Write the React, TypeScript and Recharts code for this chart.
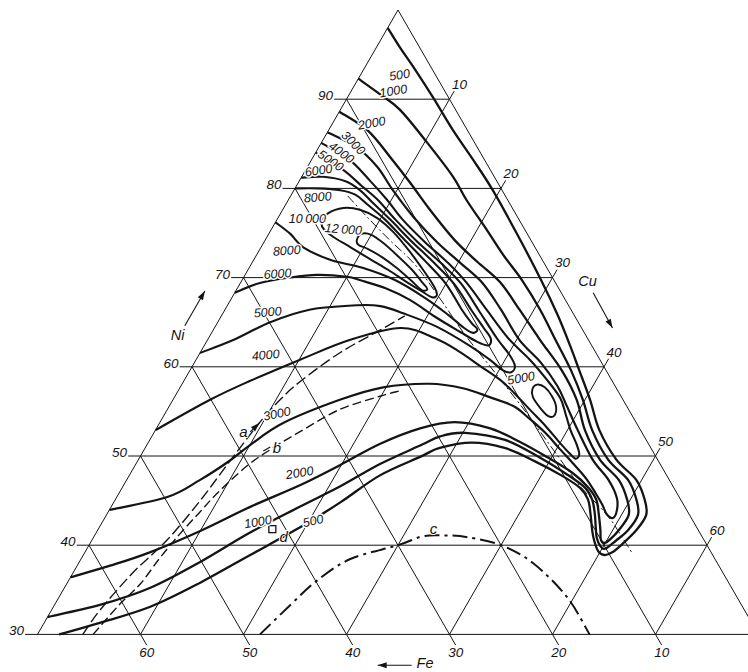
import React from 'react';
import { ComposedChart, Line, Scatter, XAxis, YAxis } from 'recharts';

// ---------- data: compositions given as [Ni %, Fe %]  (Cu = 100 - Ni - Fe) ----------
const NI_TICKS = [30, 40, 50, 60, 70, 80, 90];
const CU_TICKS = [10, 20, 30, 40, 50, 60];
const FE_TICKS = [10, 20, 30, 40, 50, 60];

const C500 = [[98.0,2.0],[95.7,1.9],[93.6,1.7],[90.2,1.5],[86.5,1.4],[83.2,1.1],[79.8,0.9],[74.8,1.0],[69.7,1.25],[65.8,1.6],[62.4,2.1],[59.6,2.6],[56.3,3.2],[52.9,4.0],[49.6,4.0],[47.3,3.2],[45.1,3.5],[43.4,4.2],[41.7,6.0],[40.1,8.2],[39.2,9.6],[38.9,10.5],[39.3,10.9],[40.5,10.7],[41.7,10.3],[43.4,9.6],[45.1,9.0],[46.4,9.1],[47.8,10.2],[49.4,12.0],[50.9,14.2],[51.5,17.1],[50.9,20.5],[49.9,22.9],[47.8,27.9],[44.8,33.2],[42.0,38.5],[38.9,44.9],[35.8,51.3],[33.1,57.5],[31.3,63.3],[30.0,67.9]];
const C1000 = [[92.3,7.7],[90.6,6.5],[88.8,5.4],[85.1,4.6],[81.3,4.0],[78.7,4.0],[75.3,3.7],[72.5,3.5],[69.7,3.1],[66.4,3.0],[63.0,3.2],[59.6,3.4],[56.3,3.9],[52.9,4.7],[49.6,4.8],[47.3,4.0],[45.1,4.3],[43.4,5.0],[41.7,6.8],[40.5,8.6],[39.6,10.1],[39.9,10.4],[40.8,10.3],[42.0,9.8],[43.6,9.1],[45.1,8.6],[46.4,8.6],[47.9,9.6],[49.8,11.3],[51.8,13.7],[52.6,17.2],[52.2,19.8],[51.2,22.2],[49.1,27.2],[46.6,32.3],[44.3,37.4],[41.4,43.7],[38.1,50.2],[35.2,56.5],[33.3,62.3],[31.95,68.05]];
const C2000 = [[88.6,11.4],[86.5,9.7],[83.5,9.0],[80.6,8.5],[77.6,8.1],[74.2,7.4],[71.75,6.4],[69.5,5.35],[66.4,5.0],[63.0,4.7],[59.6,4.3],[56.3,4.5],[52.9,5.4],[49.6,5.6],[47.3,4.9],[45.1,5.2],[43.4,5.9],[41.7,7.7],[40.7,9.0],[40.25,9.8],[40.6,10.0],[41.7,9.5],[43.4,8.8],[45.1,8.2],[46.5,8.3],[48.1,9.0],[50.0,10.7],[51.6,12.4],[53.1,14.5],[53.8,17.6],[53.1,21.3],[51.35,26.1],[49.0,31.1],[46.75,36.1],[44.3,42.2],[41.6,48.4],[39.2,54.5],[37.7,59.1],[36.4,63.6]];
const C3000 = [[86.3,13.7],[84.6,11.7],[82.4,10.8],[79.8,10.6],[76.8,10.1],[73.9,9.2],[71.6,8.1],[69.4,7.1],[66.4,6.8],[63.0,6.7],[60.5,5.9],[57.85,5.6],[55.7,5.8],[52.9,6.1],[49.6,6.3],[47.3,5.9],[45.3,6.1],[43.9,6.8],[43.05,7.6],[43.5,8.0],[44.5,7.9],[45.85,7.9],[47.5,8.0],[49.1,8.4],[50.8,8.9],[52.6,9.4],[54.3,10.2],[55.6,11.0],[56.6,12.8],[57.6,14.9],[58.1,17.9],[57.7,22.6],[56.3,27.5],[53.7,34.3],[51.2,38.8],[49.3,41.9],[47.3,45.6],[45.4,49.7],[43.95,56.05]];
const C4000 = [[85.1,14.9],[83.2,13.1],[80.9,12.3],[78.7,11.7],[76.5,11.3],[74.0,10.4],[71.6,9.3],[69.3,8.6],[66.4,8.2],[63.2,7.7],[60.8,6.8],[58.7,6.3],[56.5,6.0],[54.6,6.4],[52.9,6.8],[51.35,7.0],[50.2,7.3],[49.7,7.9],[50.3,8.2],[51.7,8.6],[53.4,9.0],[55.2,9.6],[57.1,10.2],[58.5,10.8],[60.1,12.0],[61.7,13.2],[63.2,14.8],[64.35,17.6],[63.0,23.2],[60.8,29.1],[58.4,35.2],[56.3,40.1],[52.9,47.1]];
const C5000 = [[84.0,16.0],[82.1,14.3],[80.3,13.4],[78.7,12.6],[76.5,12.0],[74.0,11.1],[71.6,10.0],[69.3,9.2],[66.4,9.0],[63.2,8.8],[61.3,8.5],[60.1,8.6],[59.4,9.3],[59.6,10.0],[60.8,10.7],[62.3,11.8],[64.5,14.0],[66.0,16.5],[66.8,18.3],[66.9,20.5],[66.4,25.4],[65.0,29.9],[63.0,34.5],[61.55,38.45]];
const C6000 = [[81.2,18.8],[81.3,16.6],[80.8,14.7],[79.8,13.8],[78.5,13.3],[76.5,12.5],[74.2,11.7],[71.75,10.7],[69.3,9.9],[66.4,9.7],[64.35,9.5],[63.2,9.4],[62.4,10.0],[62.8,10.9],[63.9,12.0],[65.5,13.5],[67.5,15.1],[68.8,16.8],[69.7,18.8],[70.1,19.9],[70.3,22.7],[70.0,25.5],[69.4,28.7],[68.3,31.7]];
const C8000 = [[80.0,20.0],[80.0,17.8],[79.8,15.7],[79.3,14.5],[78.25,13.9],[76.5,13.0],[74.4,12.3],[71.9,11.45],[69.3,10.7],[66.4,10.6],[64.9,10.4],[64.2,10.2],[63.8,10.8],[64.35,11.4],[65.8,12.2],[67.7,13.5],[69.7,15.4],[71.1,17.9],[72.0,20.6],[73.4,22.5],[74.9,23.0],[76.2,23.8]];
const C10000 = [[76.2,19.3],[77.2,18.2],[77.8,16.4],[77.6,14.9],[76.7,13.7],[75.1,12.9],[72.9,12.4],[70.6,12.1],[68.95,12.0],[68.05,12.2],[67.8,12.8],[68.5,13.5],[69.6,14.5],[70.85,15.5],[72.1,16.7],[73.4,17.9],[74.55,19.0],[75.45,19.5]];
const C12000 = [[74.2,16.9],[74.9,16.1],[74.8,15.2],[73.9,14.5],[72.4,13.8],[70.85,13.2],[69.4,12.9],[68.7,12.8],[68.6,13.4],[69.7,13.9],[71.1,14.6],[72.3,15.4],[73.2,16.3],[73.65,17.0]];
const ISLAND5000 = [[58.0,7.5],[57.7,6.9],[56.7,6.7],[55.5,6.9],[54.5,7.6],[54.5,8.2],[55.4,8.5],[56.6,8.6],[57.5,8.2]];
const RIDGE = [[79.15,15.3],[76.8,14.6],[74.2,13.7],[71.4,12.6],[67.7,12.1],[63.6,11.7],[59.3,10.9],[54.8,10.1],[50.9,9.6],[46.6,9.0],[43.4,8.0],[40.9,7.8],[39.1,7.7]];
const LINE_A = [[30.0,65.6],[32.7,62.6],[36.9,57.3],[40.6,52.1],[45.0,46.7],[49.0,42.1],[53.8,36.5],[56.3,33.3],[58.3,30.4],[61.55,24.9],[64.1,19.7],[65.7,16.5]];
const LINE_B = [[30.0,64.6],[33.4,60.3],[35.65,57.2],[38.6,53.8],[41.3,50.5],[43.7,47.4],[45.85,44.6],[48.9,40.2],[50.9,36.7],[52.7,33.2],[55.2,28.1],[56.7,23.4],[57.3,21.2]];
const LINE_C = [[30.0,48.4],[33.3,43.8],[36.0,39.9],[38.45,35.4],[40.0,30.0],[41.0,27.1],[41.1,24.9],[40.9,22.8],[40.0,20.0],[38.0,17.9],[34.2,16.5],[30.0,16.4]];
const POINT_D = [[41.8, 41.3]];

const CONTOUR_LABELS: [string, number, number][] = [
  ['500', 92.7, 3.5], ['1000', 90.9, 5.0], ['2000', 87.3, 8.9], ['3000', 85.1, 11.8],
  ['4000', 84.0, 13.5], ['5000', 83.1, 15.0], ['6000', 82.0, 16.7], ['8000', 79.0, 18.3],
  ['10\u2009000', 76.6, 20.5], ['12\u2009000', 75.4, 17.6], ['8000', 73.0, 24.3], ['6000', 70.4, 26.5],
  ['5000', 66.1, 29.6], ['4000', 61.3, 32.2], ['3000', 54.7, 34.4], ['2000', 48.1, 35.5],
  ['1000', 42.6, 42.3], ['500', 42.7, 36.9], ['5000', 58.7, 8.7],
];
const CONTOUR_LABEL_ANGLES = [-10, -10, -10, 45, 36, 34, -8, -5, 0, 4, -4, -4, -5, -5, -12, -10, -10, -12, -10];
const LETTER_LABELS: [string, number, number][] = [['a', 52.8, 38.6], ['b', 50.9, 36.3], ['c', 41.9, 25.6], ['d', 41.0, 40.6]];
const AXIS_NAMES: [string, number, number][] = [['Ni', 63.6, 39.6], ['Cu', 69.6, -3.2], ['Fe', 26.75, 34.0]];
const ARROW_FROM = [[64.6, 38.4], [68.3, -3.1], [26.55, 35.4], [52.7, 38.0]];
const ARROW_TO = [[68.5, 34.5], [64.35, -3.0], [26.55, 38.7], [53.7, 36.6]];
const B_TICK = [[50.56, 37.8], [51.0, 36.9]];

// ---------- layout ----------
const W = 748;
const H = 672;
const X_DOMAIN: [number, number] = [-38.641, 33.981];
const Y_DOMAIN: [number, number] = [25.785, 101.121];
const PX_X = W / (X_DOMAIN[1] - X_DOMAIN[0]);
const PX_Y = H / (Y_DOMAIN[1] - Y_DOMAIN[0]);
const INK = '#141414';
const FONT = "'Liberation Sans', Arial, sans-serif";

const toXY = (p: number[]) => ({ x: (100 - p[0] - 2 * p[1]) / 2, y: p[0] });
const pts = (arr: number[][]) => arr.map(toXY);

const makeCR = (closed: boolean) => (context: any) => {
  let buf: [number, number][] = [];
  return {
    areaStart() {},
    areaEnd() {},
    lineStart() { buf = []; },
    point(x: number, y: number) { buf.push([+x, +y]); },
    lineEnd() {
      const n = buf.length;
      if (!n) return;
      context.moveTo(buf[0][0], buf[0][1]);
      if (n === 1) return;
      const g = (i: number) => (closed ? buf[((i % n) + n) % n] : buf[Math.max(0, Math.min(n - 1, i))]);
      const segs = closed ? n : n - 1;
      for (let i = 0; i < segs; i++) {
        const p0 = g(i - 1), p1 = g(i), p2 = g(i + 1), p3 = g(i + 2);
        context.bezierCurveTo(
          p1[0] + (p2[0] - p0[0]) / 6, p1[1] + (p2[1] - p0[1]) / 6,
          p2[0] - (p3[0] - p1[0]) / 6, p2[1] - (p3[1] - p1[1]) / 6,
          p2[0], p2[1]);
      }
      if (closed) context.closePath();
    },
  };
};
const OPEN = makeCR(false);
const CLOSED = makeCR(true);

// grid segments
const GRID: number[][][] = [
  [[100, 0], [30, 70]],
  [[100, 0], [30, 0]],
  ...NI_TICKS.map((k) => [[k, 100 - k + 1.2], [k, 0]]),
  ...FE_TICKS.map((k) => [[100 - k, k], [28.8, k]]),
  ...CU_TICKS.map((k) => [[30, 70 - k], [100 - k + 0.9, -0.9]]),
];

const CURVES: { d: number[][]; w: number; closed?: boolean; dash?: string }[] = [
  { d: C500, w: 2.3 }, { d: C1000, w: 2.3 }, { d: C2000, w: 2.3 }, { d: C3000, w: 2.2 },
  { d: C4000, w: 2.1 }, { d: C5000, w: 2.1 }, { d: C6000, w: 2.1 }, { d: C8000, w: 2.1 },
  { d: C10000, w: 2.0, closed: true }, { d: C12000, w: 1.9, closed: true }, { d: ISLAND5000, w: 1.9, closed: true },
  { d: RIDGE, w: 1.0, dash: '9 3 2 3' }, { d: LINE_A, w: 1.4, dash: '11 4' }, { d: LINE_B, w: 1.4, dash: '9 4' },
  { d: LINE_C, w: 2.0, dash: '15 5 3 5' },
];

const textBase = { fontFamily: FONT, fontStyle: 'italic' as const, fill: INK };

const ContourLabel = (p: any) => (
  <text x={p.cx} y={p.cy} transform={`rotate(${p.payload.rot},${p.cx},${p.cy})`} textAnchor="middle"
    dominantBaseline="central" fontSize={12.5} stroke="#fff" strokeWidth={3} strokeLinejoin="round"
    paintOrder="stroke" {...textBase}>{p.payload.t}</text>
);
const LetterLabel = (p: any) => (
  <text x={p.cx} y={p.cy} textAnchor="middle" dominantBaseline="central" fontSize={15} {...textBase}
    stroke="#fff" strokeWidth={2} paintOrder="stroke">{p.payload.t}</text>
);
const AxisName = (p: any) => (
  <text x={p.cx} y={p.cy} textAnchor="middle" dominantBaseline="central" fontSize={14.5} {...textBase}>{p.payload.t}</text>
);
const NiTick = (p: any) => (
  <text x={p.cx} y={p.cy} textAnchor="end" dominantBaseline="central" fontSize={13.5} {...textBase}>{p.payload.t}</text>
);
const MidTick = (p: any) => (
  <text x={p.cx} y={p.cy} textAnchor="middle" dominantBaseline="central" fontSize={13.5} {...textBase}>{p.payload.t}</text>
);
const ArrowHead = (p: any) => (
  <path d="M0,0 L-9,-3 L-9,3 Z" fill={INK} transform={`translate(${p.cx},${p.cy}) rotate(${p.payload.ang})`} />
);
const SquareMark = (p: any) => (
  <rect x={p.cx - 3.5} y={p.cy - 3.5} width={7} height={7} fill="#fff" stroke={INK} strokeWidth={1.3} />
);

const labelData = (arr: [string, number, number][], angles?: number[]) =>
  arr.map((l, i) => ({ ...toXY([l[1], l[2]]), t: l[0], rot: angles ? angles[i] : 0 }));

const niTickData = NI_TICKS.map((k) => ({ ...toXY([k + 0.4, 100 - k + 1.1]), t: String(k) }));
const cuTickData = CU_TICKS.map((k) => ({ ...toXY([100 - k + 1.65, -1.8]), t: String(k) }));
const feTickData = FE_TICKS.map((k) => ({ ...toXY([28.0, k + 0.4]), t: String(k) }));
const arrowHeads = ARROW_TO.map((to, i) => {
  const a = toXY(ARROW_FROM[i]);
  const b = toXY(to);
  const ang = (Math.atan2(-(b.y - a.y) * PX_Y, (b.x - a.x) * PX_X) * 180) / Math.PI;
  return { ...b, ang };
});

export default function App() {
  return (
    <div style={{ position: 'absolute', left: 0, top: 0, width: W, height: H, background: '#fff' }}>
      <ComposedChart width={W} height={H} margin={{ top: 0, right: 0, bottom: 0, left: 0 }}>
        <XAxis type="number" dataKey="x" domain={X_DOMAIN} hide allowDataOverflow />
        <YAxis type="number" dataKey="y" domain={Y_DOMAIN} hide allowDataOverflow />
        {GRID.map((seg, i) => (
          <Line key={`g${i}`} data={pts(seg)} dataKey="y" type="linear" stroke={INK} strokeWidth={1}
            dot={false} activeDot={false} isAnimationActive={false} />
        ))}
        {CURVES.map((c, i) => (
          <Line key={`c${i}`} data={pts(c.d)} dataKey="y" type={(c.closed ? CLOSED : OPEN) as any} stroke={INK}
            strokeWidth={c.w} strokeDasharray={c.dash} dot={false} activeDot={false} isAnimationActive={false} />
        ))}
        {ARROW_FROM.map((f, i) => (
          <Line key={`a${i}`} data={pts([f, ARROW_TO[i]])} dataKey="y" type="linear" stroke={INK} strokeWidth={1.1}
            dot={false} activeDot={false} isAnimationActive={false} />
        ))}
        <Line data={pts(B_TICK)} dataKey="y" type="linear" stroke={INK} strokeWidth={1.1} dot={false} activeDot={false} isAnimationActive={false} />
        <Scatter data={arrowHeads} dataKey="y" shape={ArrowHead} isAnimationActive={false} />
        <Scatter data={pts(POINT_D)} dataKey="y" shape={SquareMark} isAnimationActive={false} />
        <Scatter data={labelData(CONTOUR_LABELS, CONTOUR_LABEL_ANGLES)} dataKey="y" shape={ContourLabel} isAnimationActive={false} />
        <Scatter data={labelData(LETTER_LABELS)} dataKey="y" shape={LetterLabel} isAnimationActive={false} />
        <Scatter data={labelData(AXIS_NAMES)} dataKey="y" shape={AxisName} isAnimationActive={false} />
        <Scatter data={niTickData} dataKey="y" shape={NiTick} isAnimationActive={false} />
        <Scatter data={cuTickData} dataKey="y" shape={MidTick} isAnimationActive={false} />
        <Scatter data={feTickData} dataKey="y" shape={MidTick} isAnimationActive={false} />
      </ComposedChart>
    </div>
  );
}
